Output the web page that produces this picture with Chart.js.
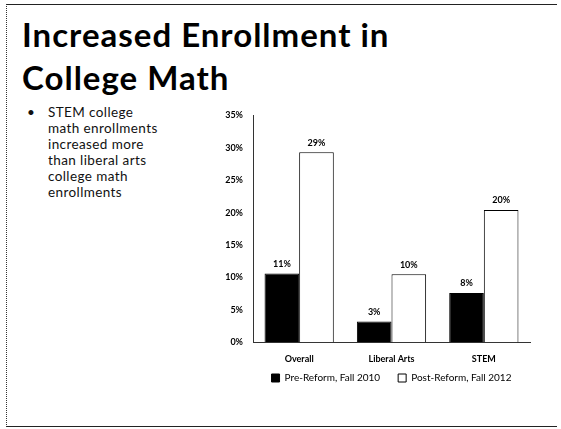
<!DOCTYPE html>
<html>
<head>
<meta charset="utf-8">
<script src="https://cdn.jsdelivr.net/npm/chart.js@4.4.0/dist/chart.umd.min.js"></script>
<style>
  html, body { margin: 0; padding: 0; background: #fff; }
  body { width: 561px; height: 429px; position: relative; overflow: hidden; font-family: Lato, sans-serif; }
  .frame { position: absolute; left: 6px; top: 4px; width: 550px; height: 421px;
           border-left: 1px dotted #333; border-top: 1px solid #222; border-bottom: 1px solid #222; }
  h1 { position: absolute; left: 22px; top: 13px; margin: 0; font-size: 33px; line-height: 43px;
       font-weight: 700; color: #000; letter-spacing: 1px; font-family: Lato, sans-serif; }
  .bullet { position: absolute; left: 27px; top: 104px; font-size: 13.5px; line-height: 16px; color: #111; letter-spacing: 0.4px; }
  .bullet span { position: absolute; left: 0; top: 0; }
  .bullet p { margin: 0 0 0 21px; white-space: nowrap; }
  .chart-box { position: absolute; left: 200px; top: 100px; width: 345px; height: 305px; }
</style>
</head>
<body>
<div class="frame"></div>
<h1>Increased Enrollment in<br>College Math</h1>
<div class="bullet"><span>•</span><p>STEM college<br>math enrollments<br>increased more<br>than liberal arts<br>college math<br>enrollments</p></div>
<div class="chart-box"><canvas id="chart"></canvas></div>
<script>
// Dados do gráfico
const categorias = ['Overall', 'Liberal Arts', 'STEM'];
const preReforma = [10.6, 3.2, 7.6];
const posReforma = [29.3, 10.5, 20.4];
const rotulosPre = ['11%', '3%', '8%'];
const rotulosPos = ['29%', '10%', '20%'];
const serieNomes = ['Pre-Reform, Fall 2010', 'Post-Reform, Fall 2012'];

const fonteGrafico = "Lato, 'Liberation Sans', sans-serif";

// Plugin simples para escrever os valores acima das barras
const rotulosBarras = {
    id: 'rotulosBarras',
    afterDatasetsDraw(chart) {
        const ctx = chart.ctx;
        const textos = [rotulosPre, rotulosPos];
        ctx.save();
        ctx.font = `bold 9px ${fonteGrafico}`;
        ctx.fillStyle = '#000';
        ctx.textAlign = 'center';
        ctx.textBaseline = 'bottom';
        chart.data.datasets.forEach((ds, i) => {
            chart.getDatasetMeta(i).data.forEach((bar, j) => {
                ctx.fillText(textos[i][j], bar.x, bar.y - 5);
            });
        });
        ctx.restore();
    }
};

// Altura fixa da legenda e um deslocamento para cima
const ajusteLegenda = {
    id: 'ajusteLegenda',
    beforeInit(chart) {
        const legenda = chart.legend;
        const fitOriginal = legenda.fit;
        const drawOriginal = legenda.draw;
        legenda.fit = function () {
            fitOriginal.call(legenda);
            this.height = 30;
        };
        legenda.draw = function () {
            chart.ctx.save();
            chart.ctx.translate(0, -20);
            drawOriginal.call(legenda);
            chart.ctx.restore();
        };
    }
};

new Chart(document.getElementById('chart'), {
    type: 'bar',
    data: {
        labels: categorias,
        datasets: [
            { label: serieNomes[0], data: preReforma, backgroundColor: '#000', borderColor: '#000', borderWidth: 1 },
            { label: serieNomes[1], data: posReforma, backgroundColor: '#fff', borderColor: '#000', borderWidth: 1 }
        ]
    },
    options: {
        responsive: true,
        maintainAspectRatio: false,
        animation: false,
        categoryPercentage: 0.75,
        barPercentage: 1,
        layout: { padding: { top: 10, right: 15 } },
        scales: {
            x: {
                grid: { display: false, drawTicks: false },
                border: { display: true, color: '#333' },
                ticks: { color: '#000', font: { family: fonteGrafico, size: 9, weight: 'bold' }, padding: 11 }
            },
            y: {
                min: 0, max: 35,
                afterFit: (scale) => { scale.width = 53; },
                grid: { display: false, drawTicks: false },
                border: { display: true, color: '#333' },
                ticks: { stepSize: 5, color: '#000', padding: 10,
                         font: { family: fonteGrafico, size: 9, weight: 'bold' },
                         callback: (v) => v + '%' }
            }
        },
        plugins: {
            legend: {
                position: 'bottom',
                fullSize: false,
                labels: { boxWidth: 8, boxHeight: 8, color: '#000', padding: 18,
                          font: { family: fonteGrafico, size: 10 } }
            },
            tooltip: { enabled: false }
        }
    },
    plugins: [rotulosBarras, ajusteLegenda]
});
</script>
</body>
</html>
